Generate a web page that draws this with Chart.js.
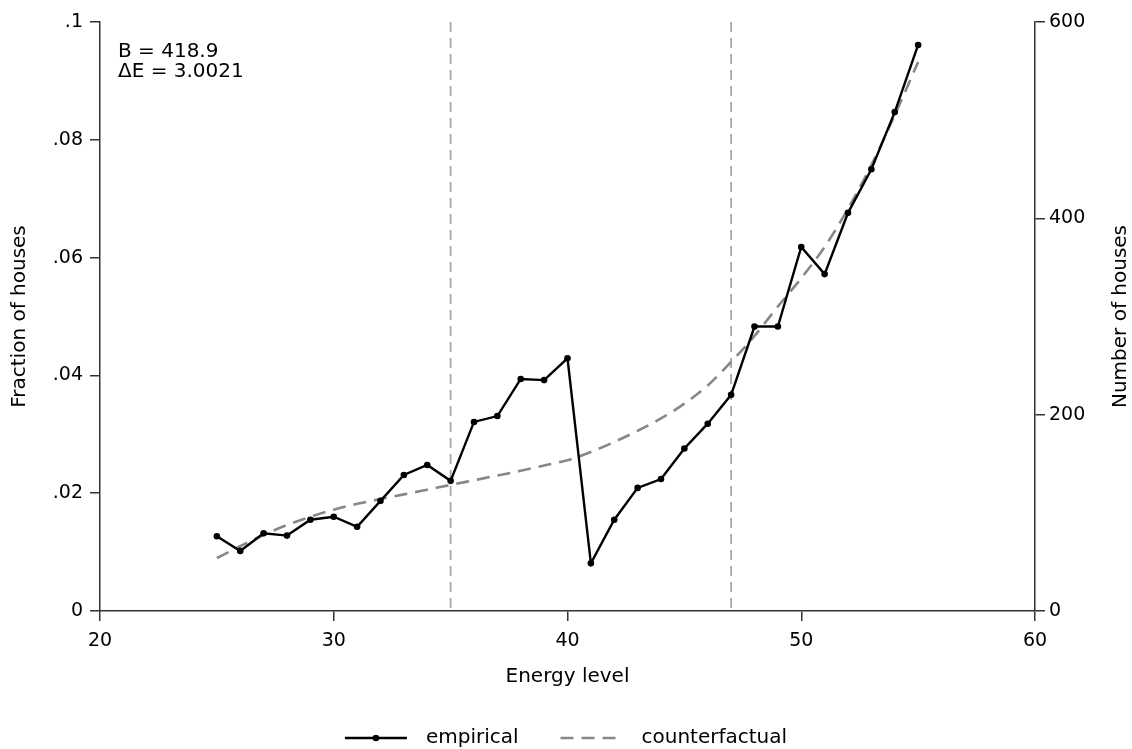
<!DOCTYPE html>
<html>
<head>
<meta charset="utf-8">
<script src="https://cdn.jsdelivr.net/npm/chart.js@4"></script>
<style>
  html, body { margin: 0; padding: 0; background: #fff; }
  #wrap { width: 1132px; height: 749px; }
</style>
</head>
<body>
<div id="wrap"><canvas id="chart" width="1132" height="749"></canvas></div>
<script>
// Data
const energy = [25, 26, 27, 28, 29, 30, 31, 32, 33, 34, 35, 36, 37, 38, 39, 40,
                41, 42, 43, 44, 45, 46, 47, 48, 49, 50, 51, 52, 53, 54, 55];
const empirical = [0.0127, 0.0102, 0.0132, 0.0128, 0.0155, 0.0160, 0.0143, 0.0187, 0.0231, 0.0248, 0.0221,
                   0.0321, 0.0331, 0.0394, 0.0392, 0.0429, 0.0081, 0.0155, 0.0209, 0.0224, 0.0276,
                   0.0318, 0.0367, 0.0483, 0.0483, 0.0618, 0.0572, 0.0676, 0.0750, 0.0847, 0.0961];
const counterfactual = [0.0090, 0.0110, 0.0129, 0.0146, 0.0160, 0.0172, 0.0182, 0.0190, 0.0198, 0.0206, 0.0214,
                        0.0222, 0.0230, 0.0238, 0.0247, 0.0256, 0.0270, 0.0287, 0.0306, 0.0327, 0.0352,
                        0.0383, 0.0423, 0.0467, 0.0517, 0.0565, 0.0618, 0.0683, 0.0757, 0.0842, 0.0932];
const cutoffs = [35, 47];

const xTicks = [20, 30, 40, 50, 60];
const leftTicks = [0, 0.02, 0.04, 0.06, 0.08, 0.1];
const leftLabels = ['0', '.02', '.04', '.06', '.08', '.1'];
const rightTicks = [0, 200, 400, 600];
const notes = ['B = 418.9', 'ΔE = 3.0021'];
const rightTitle = 'Number of houses';

const FONT = '"DejaVu Sans", sans-serif';
const AXIS = '#333333';
Chart.defaults.font.family = FONT;
Chart.defaults.color = '#000';

const pairs = (xs, ys) => xs.map((x, i) => ({ x: x, y: ys[i] }));

const datasets = [{
    label: 'empirical',
    data: pairs(energy, empirical),
    borderColor: '#000',
    backgroundColor: '#000',
    borderWidth: 2.4,
    pointRadius: 3.3,
    pointBorderWidth: 0,
    tension: 0,
    order: 1
}, {
    label: 'counterfactual',
    data: pairs(energy, counterfactual),
    borderColor: '#878787',
    borderWidth: 2.6,
    borderDash: [13, 8],
    pointRadius: 0,
    cubicInterpolationMode: 'monotone',
    order: 2
}];
// cutoff lines, drawn top to bottom so the dash starts at the top
cutoffs.forEach(c => {
    datasets.push({
        label: '',
        data: [{ x: c, y: leftTicks[leftTicks.length - 1] }, { x: c, y: leftTicks[0] }],
        borderColor: '#a8a8a8',
        borderWidth: 1.8,
        borderDash: [10, 6],
        pointRadius: 0,
        order: 3,
        noLegend: true
    });
});

const axisGrid = { drawOnChartArea: false, drawTicks: true, tickLength: 10, color: AXIS, lineWidth: 1.5 };
const axisBorder = { display: true, color: AXIS, width: 1.5 };

// annotation, right-hand title (reads bottom to top) and the legend
const extras = {
    id: 'extras',
    afterDraw(chart) {
        const ctx = chart.ctx;
        const area = chart.chartArea;
        ctx.save();
        ctx.fillStyle = '#000';
        ctx.font = '20px ' + FONT;
        ctx.textBaseline = 'alphabetic';
        notes.forEach((t, i) => ctx.fillText(t, area.left + 18, area.top + 35 + i * 20));

        ctx.save();
        ctx.translate(1121, (area.top + area.bottom) / 2);
        ctx.rotate(-Math.PI / 2);
        ctx.textAlign = 'center';
        ctx.textBaseline = 'middle';
        ctx.fillText(rightTitle, 0, 0);
        ctx.restore();

        // legend
        const items = chart.data.datasets.filter(d => !d.noLegend);
        const sample = 62, gap = 19, between = 42;
        let total = 0;
        items.forEach((d, i) => {
            total += sample + gap + ctx.measureText(d.label).width + (i < items.length - 1 ? between : 0);
        });
        let x = chart.width / 2 - total / 2;
        const y = 738;
        items.forEach(d => {
            ctx.beginPath();
            ctx.strokeStyle = d.borderColor;
            ctx.lineWidth = d.borderWidth;
            ctx.setLineDash(d.borderDash || []);
            ctx.moveTo(x, y);
            ctx.lineTo(x + sample, y);
            ctx.stroke();
            ctx.setLineDash([]);
            if (d.pointRadius) {
                ctx.beginPath();
                ctx.fillStyle = d.backgroundColor;
                ctx.arc(x + sample / 2, y, d.pointRadius, 0, Math.PI * 2);
                ctx.fill();
            }
            ctx.fillStyle = '#000';
            ctx.textBaseline = 'middle';
            ctx.fillText(d.label, x + sample + gap, y);
            x += sample + gap + ctx.measureText(d.label).width + between;
        });
        ctx.restore();
    }
};

new Chart(document.getElementById('chart'), {
    type: 'line',
    data: { datasets: datasets },
    options: {
        responsive: false,
        animation: false,
        layout: { padding: { top: 22, left: 0, right: 0, bottom: 0 } },
        plugins: { legend: { display: false }, tooltip: { enabled: false } },
        scales: {
            x: {
                type: 'linear',
                position: 'bottom',
                min: xTicks[0],
                max: xTicks[xTicks.length - 1],
                afterBuildTicks: s => { s.ticks = xTicks.map(v => ({ value: v })); },
                afterFit: s => { s.height = 138; },
                ticks: { font: { size: 19 }, padding: 9, color: '#000' },
                grid: axisGrid,
                border: axisBorder,
                title: { display: true, text: 'Energy level', font: { size: 20 }, padding: { top: 0, bottom: 60 }, color: '#000' }
            },
            y: {
                position: 'left',
                min: leftTicks[0],
                max: leftTicks[leftTicks.length - 1],
                afterBuildTicks: s => { s.ticks = leftTicks.map(v => ({ value: v })); },
                afterFit: s => { s.width = 100; },
                ticks: { font: { size: 19 }, padding: 7, color: '#000', callback: (v, i) => leftLabels[i] },
                grid: axisGrid,
                border: axisBorder,
                title: { display: true, text: 'Fraction of houses', font: { size: 20 }, padding: { top: 8, bottom: 0 }, color: '#000' }
            },
            y2: {
                position: 'right',
                min: rightTicks[0],
                max: rightTicks[rightTicks.length - 1],
                afterBuildTicks: s => { s.ticks = rightTicks.map(v => ({ value: v })); },
                afterFit: s => { s.width = 97; },
                ticks: { font: { size: 19 }, padding: 4, color: '#000' },
                grid: axisGrid,
                border: axisBorder
            }
        }
    },
    plugins: [extras]
});
</script>
</body>
</html>
